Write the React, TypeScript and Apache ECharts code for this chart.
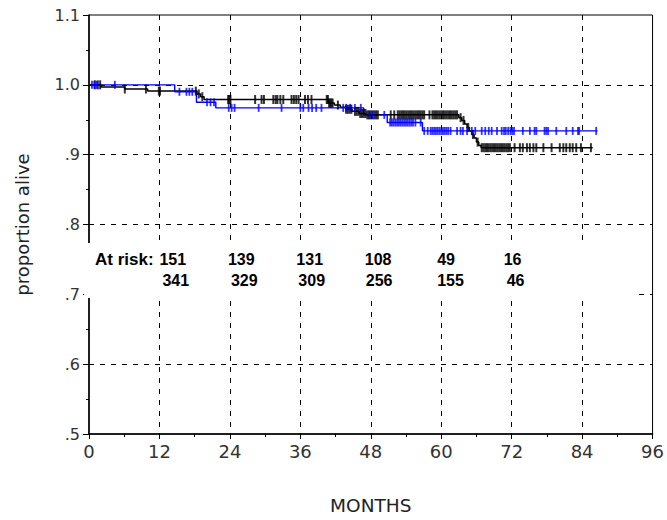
import React, { useEffect, useRef } from "react";
import * as echarts from "echarts";

// ---- axis ticks ----
const xMin = 0;
const xMax = 96;
const xStep = 12;
const yMin = 0.5;
const yMax = 1.1;
const yStep = 0.1;

// ---- Kaplan-Meier curve: blue group ----
const blueEventMonths = [0, 14.6, 18.3, 21.6, 46.8, 50.8, 56.8];
const blueSurvival = [1.0, 0.990, 0.975, 0.967, 0.957, 0.946, 0.934];
const blueLastMonth = 86.6;
const blueCensorMonths = [
  0.5, 0.9, 1.3, 4.4, 15.4, 16.6, 17.1, 17.6, 20.1, 20.7, 21.3, 23.8, 24.3, 24.8,
  28.9, 32.8, 36.0, 36.5, 37.4, 38.0, 38.7, 39.6, 43.3, 43.8, 44.5, 45.3, 46.3,
  47.8, 48.3, 50.3, 51.3, 51.6, 51.9, 52.2, 52.5, 52.8, 53.1, 53.4, 53.7, 54.0,
  54.3, 54.6, 54.9, 55.2, 55.6, 56.5, 57.1, 57.7, 58.2, 58.5, 58.8, 59.1, 59.4,
  59.7, 60.0, 60.3, 60.6, 60.9, 61.2, 61.6, 62.7, 63.3, 63.7, 64.4, 65.2, 65.8,
  66.9, 67.5, 68.1, 68.6, 69.5, 70.3, 70.7, 71.0, 71.4, 71.8, 72.1, 72.4, 73.9,
  75.1, 75.9, 76.2, 77.6, 77.9, 78.2, 79.6, 81.3, 82.4, 83.3, 83.5, 86.4,
];

// ---- Kaplan-Meier curve: black group ----
const blackEventMonths = [
  0, 2.0, 6.1, 10.0, 18.4, 19.0, 19.6, 40.8, 41.8, 42.8, 43.8, 44.8, 46.0, 47.2,
  63.0, 63.5, 64.0, 64.4, 64.8, 65.2, 65.6, 66.0, 66.4, 66.8,
];
const blackSurvival = [
  1.0, 0.997, 0.994, 0.991, 0.987, 0.983, 0.979, 0.974, 0.971, 0.968, 0.965,
  0.962, 0.959, 0.957, 0.953, 0.949, 0.944, 0.939, 0.934, 0.929, 0.924, 0.918,
  0.913, 0.910,
];
const blackLastMonth = 85.8;
const blackCensorMonths = [
  1.0, 1.5, 1.9, 6.1, 9.7, 11.9, 12.1, 18.2, 18.7, 19.3, 23.7, 23.9, 24.1, 28.3,
  29.4, 29.8, 31.4, 31.8, 32.1, 32.6, 33.1, 34.5, 34.9, 35.3, 35.7, 36.8, 37.3,
  37.9, 40.5, 40.7, 40.9, 41.1, 41.3, 41.5, 42.4, 43.8, 44.1, 44.4, 44.7, 45.3,
  45.6, 45.9, 46.2, 46.5, 46.8, 47.1, 47.4, 47.7, 48.0, 48.3, 48.6, 48.9, 49.2,
  51.4, 52.0, 52.6, 52.9, 53.2, 53.5, 53.8, 54.1, 54.4, 54.7, 55.0, 55.3, 55.6,
  55.9, 56.2, 56.5, 56.8, 57.1, 58.0, 58.5, 58.8, 59.1, 59.4, 59.7, 60.0, 60.3,
  60.6, 60.9, 61.2, 61.5, 61.8, 62.1, 62.4, 62.7, 63.3, 63.8, 64.6, 65.4, 66.2,
  66.9, 67.2, 67.5, 67.8, 68.1, 68.4, 68.7, 69.0, 69.3, 69.6, 69.9, 70.2, 70.5,
  70.8, 71.1, 71.4, 71.7, 72.5, 73.4, 73.9, 74.6, 75.1, 75.7, 76.2, 77.4, 78.8,
  80.2, 80.8, 81.3, 81.9, 82.4, 83.0, 83.8, 85.5,
];

// ---- numbers at risk ----
const atRiskMonths = [12, 24, 36, 48, 60, 72];
const atRiskBlue = [151, 139, 131, 108, 49, 16];
const atRiskBlack = [341, 329, 309, 256, 155, 46];

const AXIS_FONT = "'DejaVu Sans', Verdana, sans-serif";
const BOLD_FONT = "'Liberation Sans', Arial, sans-serif";

function survivalAt(months: number[], surv: number[], t: number) {
  let s = surv[0];
  for (let i = 0; i < months.length; i++) if (months[i] <= t) s = surv[i];
  return s;
}

function stepData(months: number[], surv: number[], last: number) {
  const d = months.map((m, i) => [m, surv[i]]);
  d.push([last, surv[surv.length - 1]]);
  return d;
}

function censorData(months: number[], surv: number[], cens: number[]) {
  return cens.map((t) => [t, survivalAt(months, surv, t)]);
}

export default function App() {
  const ref = useRef<HTMLDivElement>(null);

  useEffect(() => {
    const chart = echarts.init(ref.current!, null, { renderer: "svg" });
    const gridLine = { show: true, lineStyle: { color: "#000", width: 1, type: [5, 6] as any } };
    const option: any = {
      animation: false,
      backgroundColor: "#fff",
      grid: {
        left: 89,
        top: 15,
        width: 568,
        height: 421,
        show: true,
        borderColor: "#000",
        borderWidth: 1,
        backgroundColor: "transparent",
      },
      xAxis: {
        type: "value",
        min: xMin,
        max: xMax,
        interval: xStep,
        name: "MONTHS",
        nameLocation: "middle",
        nameGap: 62,
        nameTextStyle: { fontFamily: AXIS_FONT, fontSize: 18.5, color: "#222" },
        axisLine: { show: true, onZero: false, lineStyle: { color: "#000", width: 1.5 } },
        axisTick: { show: true, length: 5, lineStyle: { color: "#000" } },
        minorTick: { show: true, splitNumber: 2, length: 3, lineStyle: { color: "#000" } },
        axisLabel: { fontFamily: AXIS_FONT, fontSize: 18, color: "#333", margin: 8 },
        splitLine: { ...gridLine, showMinLine: false, showMaxLine: false },
      },
      yAxis: {
        type: "value",
        min: yMin,
        max: yMax,
        interval: yStep,
        name: "proportion alive",
        nameLocation: "middle",
        nameRotate: 90,
        nameGap: 58,
        nameTextStyle: { fontFamily: AXIS_FONT, fontSize: 18, color: "#222" },
        axisLine: { show: true, onZero: false, lineStyle: { color: "#000", width: 1.5 } },
        axisTick: { show: true, length: 6, lineStyle: { color: "#000" } },
        minorTick: { show: true, splitNumber: 2, length: 3, lineStyle: { color: "#000" } },
        axisLabel: {
          fontFamily: AXIS_FONT,
          fontSize: 16,
          color: "#333",
          margin: 9,
          formatter: (v: number) => {
            const r = Math.round(v * 10) / 10;
            return r >= 1 ? r.toFixed(1) : "." + Math.round(r * 10);
          },
        },
        splitLine: { ...gridLine, showMinLine: false, showMaxLine: false },
      },
      series: [
        {
          type: "line",
          step: "end",
          data: stepData(blackEventMonths, blackSurvival, blackLastMonth),
          symbol: "none",
          lineStyle: { color: "#000", width: 1.5 },
          z: 3,
        },
        {
          type: "line",
          step: "end",
          data: stepData(blueEventMonths, blueSurvival, blueLastMonth),
          symbol: "none",
          lineStyle: { color: "#0000ff", width: 1.4 },
          z: 4,
        },
        {
          type: "scatter",
          data: censorData(blackEventMonths, blackSurvival, blackCensorMonths),
          symbol: "rect",
          symbolSize: [2, 9],
          itemStyle: { color: "#000" },
          z: 5,
        },
        {
          type: "scatter",
          data: censorData(blueEventMonths, blueSurvival, blueCensorMonths),
          symbol: "rect",
          symbolSize: [1.8, 8],
          itemStyle: { color: "#0000ff" },
          z: 6,
        },
      ],
    };
    chart.setOption(option);

    const row1Offsets = [0, -2, -4, -6, -4, -8];
    const row2Offsets = [3, 1, -2, -5, -4, -5];
    const textStyle = { fontFamily: BOLD_FONT, fontSize: 16, fontWeight: "bold", fill: "#000" };
    const elements: any[] = [
      {
        type: "rect",
        shape: { x: 84, y: 243, width: 550, height: 55 },
        style: { fill: "#fff" },
        z: 100,
      },
      {
        type: "text",
        x: 95,
        y: 259,
        style: { ...textStyle, fontSize: 17, text: "At risk:", verticalAlign: "middle", align: "left" },
        z: 101,
      },
    ];
    atRiskMonths.forEach((m, i) => {
      const px = chart.convertToPixel({ xAxisIndex: 0 }, m) as number;
      elements.push({
        type: "text",
        x: px + row1Offsets[i],
        y: 259,
        style: { ...textStyle, text: String(atRiskBlue[i]), verticalAlign: "middle", align: "left" },
        z: 101,
      });
      elements.push({
        type: "text",
        x: px + row2Offsets[i],
        y: 280,
        style: { ...textStyle, text: String(atRiskBlack[i]), verticalAlign: "middle", align: "left" },
        z: 101,
      });
    });
    chart.setOption({ graphic: { elements } });

    return () => chart.dispose();
  }, []);

  return (
    <div
      ref={ref}
      style={{ position: "fixed", left: 0, top: 0, width: 667, height: 520, background: "#fff" }}
    />
  );
}
